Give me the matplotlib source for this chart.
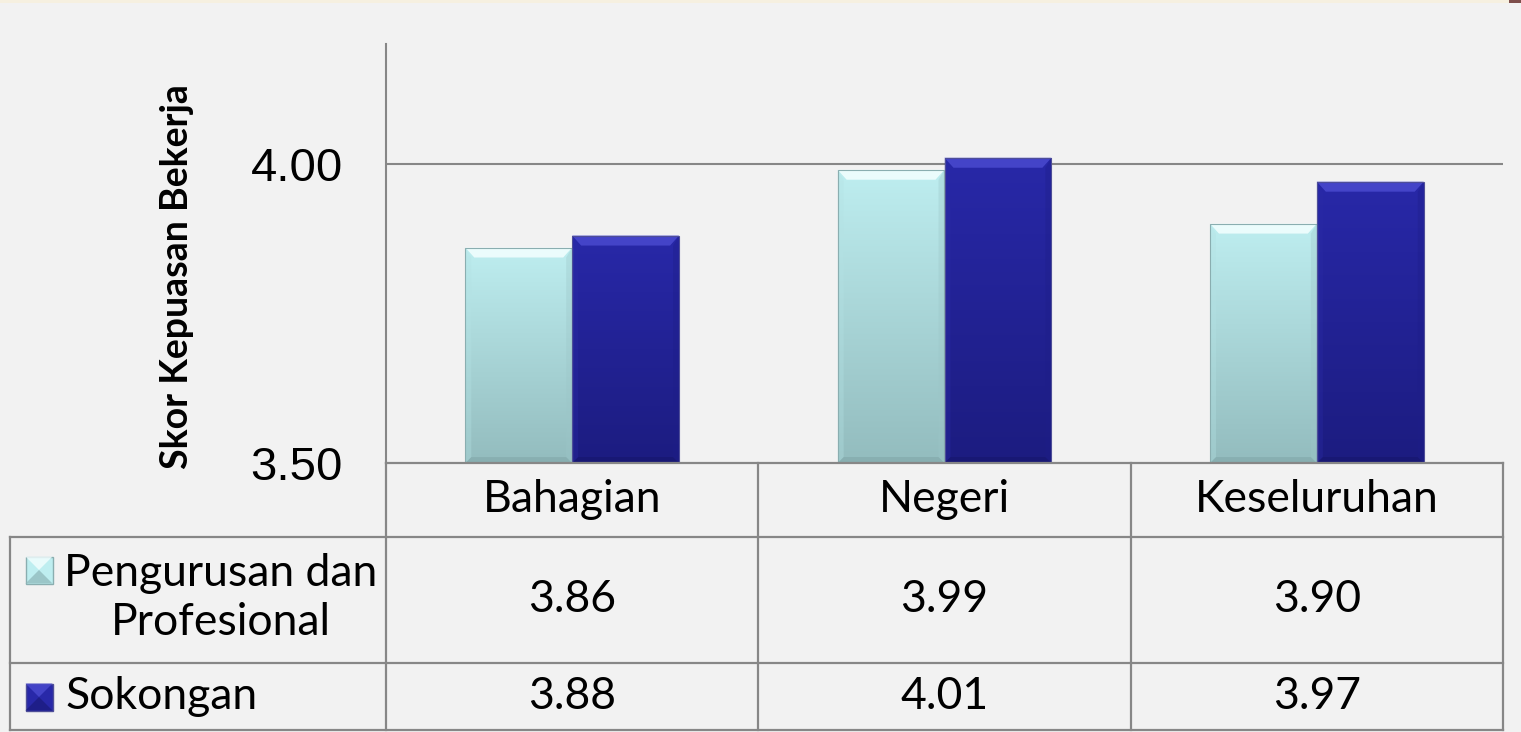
import numpy as np
import matplotlib
matplotlib.use("Agg")
import matplotlib.pyplot as plt
from matplotlib.patches import Rectangle, Polygon

# ---------------- data ----------------
categories = ["Bahagian", "Negeri", "Keseluruhan"]
series_names = ["Pengurusan dan\nProfesional", "Sokongan"]
pengurusan = [3.86, 3.99, 3.90]
sokongan = [3.88, 4.01, 3.97]
yticks = [3.50, 4.00]
ytick_labels = ["3.50", "4.00"]
ylabel = "Skor Kepuasan Bekerja"

# ---------------- style ----------------
W, H = 1521, 732
BG = "#F2F2F2"
LINE = "#878787"
CAL = ["Lato", "DejaVu Sans"]
ARI = ["Liberation Sans", "DejaVu Sans"]

cyan_grad = ("#BEEEF0", "#93BCBE")
blue_grad = ("#2828A8", "#1C1C80")
cyan_bevel = dict(top="#F4FFFF", left="#B4E2E4", right="#9CC6C8", bottom="#7FA4A6", edge="#8AAEB0")
blue_bevel = dict(top="#4A4ACF", left="#2B2BA6", right="#1E1E88", bottom="#15156A", edge="#4E4E98")

fig = plt.figure(figsize=(W / 100, H / 100), dpi=100, facecolor=BG)


def fx(px):
    return px / W


def fy(py):
    return 1 - py / H


# top decorative strip
fig.patches.append(Rectangle((0, fy(3)), fx(1509), 3 / H, transform=fig.transFigure,
                             facecolor="#F6F0E0", edgecolor="none"))
fig.patches.append(Rectangle((fx(1509), fy(3)), fx(12), 3 / H, transform=fig.transFigure,
                             facecolor="#7E4E4B", edgecolor="none"))

ax_left, ax_right, ax_top, ax_bottom = 386, 1503, 44, 463
ax = fig.add_axes([fx(ax_left), fy(ax_bottom), (ax_right - ax_left) / W, (ax_bottom - ax_top) / H])
ax.set_facecolor("none")
XL = (-0.5, len(categories) - 0.5)
YL = (3.5, 4.2)
ax.set_xlim(*XL)
ax.set_ylim(*YL)

bw = 0.287
x = np.arange(len(categories))
px_x = (ax_right - ax_left) / (XL[1] - XL[0])
px_y = (ax_bottom - ax_top) / (YL[1] - YL[0])


def decorate(bars, grad, bev):
    for b in bars:
        x0, y0 = b.get_x(), b.get_y()
        w, h = b.get_width(), b.get_height()
        x1, y1 = x0 + w, y0 + h
        g = np.linspace(0, 1, 256).reshape(-1, 1)
        c0 = np.array(matplotlib.colors.to_rgb(grad[0]))
        c1 = np.array(matplotlib.colors.to_rgb(grad[1]))
        img = (c0[None, None, :] * (1 - g[:, :, None]) + c1[None, None, :] * g[:, :, None])
        im = ax.imshow(img, extent=[x0, x1, y0, y1], aspect="auto", origin="upper",
                       zorder=2, interpolation="bilinear")
        im.set_clip_path(b)
        dx = 9 / px_x
        dy = 10 / px_y
        sx = 6 / px_x
        sy = 6 / px_y
        ax.add_patch(Polygon([(x0, y1), (x1, y1), (x1 - dx, y1 - dy), (x0 + dx, y1 - dy)],
                             closed=True, facecolor=bev["top"], edgecolor="none", alpha=0.85, zorder=3))
        ax.add_patch(Polygon([(x0, y0), (x1, y0), (x1 - sx, y0 + sy), (x0 + sx, y0 + sy)],
                             closed=True, facecolor=bev["bottom"], edgecolor="none", alpha=0.5, zorder=3))
        ax.add_patch(Polygon([(x0, y0), (x0, y1), (x0 + sx, y1 - dy), (x0 + sx, y0 + sy)],
                             closed=True, facecolor=bev["left"], edgecolor="none", alpha=0.35, zorder=3))
        ax.add_patch(Polygon([(x1, y0), (x1, y1), (x1 - sx, y1 - dy), (x1 - sx, y0 + sy)],
                             closed=True, facecolor=bev["right"], edgecolor="none", alpha=0.35, zorder=3))
        ax.add_patch(Rectangle((x0, y0), w, h, facecolor="none", edgecolor=bev["edge"],
                               linewidth=0.8, zorder=4))


b1 = ax.bar(x - bw / 2, np.array(pengurusan) - YL[0], bw, bottom=YL[0],
            color=cyan_grad[0], edgecolor="none", zorder=2)
b2 = ax.bar(x + bw / 2, np.array(sokongan) - YL[0], bw, bottom=YL[0],
            color=blue_grad[0], edgecolor="none", zorder=2)
decorate(b1, cyan_grad, cyan_bevel)
decorate(b2, blue_grad, blue_bevel)
ax.set_xlim(*XL)
ax.set_ylim(*YL)

# gridline at 4.00 only
for t in yticks[1:]:
    ax.axhline(t, color=LINE, linewidth=1.5, zorder=1)

for s in ["top", "right", "bottom"]:
    ax.spines[s].set_visible(False)
ax.spines["left"].set_color(LINE)
ax.spines["left"].set_linewidth(1.5)
ax.set_xticks([])
ax.set_yticks(yticks)
ax.set_yticklabels(ytick_labels, fontfamily=ARI, fontsize=34)
ax.tick_params(axis="y", length=0, pad=31)

fig.text(fx(177), fy(277), ylabel, rotation=90, ha="center", va="center",
         fontfamily=CAL, fontweight="bold", fontsize=27)

# ---------------- data table ----------------
ov = fig.add_axes([0, 0, 1, 1], zorder=5)
ov.set_xlim(0, W)
ov.set_ylim(H, 0)
ov.axis("off")
ov.patch.set_alpha(0)

tbl_left = 10
col_edges = [ax_left + (ax_right - ax_left) * i / len(categories) for i in range(len(categories) + 1)]
row_edges = [463, 537, 663, 730]
lw = 1.6

# horizontal lines
ov.plot([ax_left, ax_right], [row_edges[0]] * 2, color=LINE, lw=lw)
for r in row_edges[1:]:
    ov.plot([tbl_left, ax_right], [r, r], color=LINE, lw=lw)
# vertical lines
ov.plot([ax_left, ax_left], [row_edges[0], row_edges[-1]], color=LINE, lw=lw)
for c in col_edges[1:]:
    ov.plot([c, c], [row_edges[0], row_edges[-1]], color=LINE, lw=lw)
ov.plot([tbl_left, tbl_left], [row_edges[1], row_edges[-1]], color=LINE, lw=lw)

fs_tbl = 32
for i, cat in enumerate(categories):
    cx = (col_edges[i] + col_edges[i + 1]) / 2
    ov.text(cx, (row_edges[0] + row_edges[1]) / 2, cat, ha="center", va="center",
            fontfamily=CAL, fontsize=fs_tbl)
    ov.text(cx, (row_edges[1] + row_edges[2]) / 2, f"{pengurusan[i]:.2f}", ha="center", va="center",
            fontfamily=CAL, fontsize=fs_tbl)
    ov.text(cx, (row_edges[2] + row_edges[3]) / 2, f"{sokongan[i]:.2f}", ha="center", va="center",
            fontfamily=CAL, fontsize=fs_tbl)

# row labels with legend keys
ov.text(221, (row_edges[1] + row_edges[2]) / 2 - 2, series_names[0], ha="center", va="center",
        fontfamily=CAL, fontsize=fs_tbl, linespacing=1.25)
ov.text(65, (row_edges[2] + row_edges[3]) / 2, series_names[1], ha="left", va="center",
        fontfamily=CAL, fontsize=fs_tbl)

for (cy, grad, bev) in [(570, cyan_grad, cyan_bevel), (697, blue_grad, blue_bevel)]:
    s = 27
    ov.add_patch(Rectangle((39 - s / 2, cy - s / 2), s, s, facecolor=grad[0],
                           edgecolor=bev["edge"], linewidth=1.0))
    ov.add_patch(Polygon([(39 - s / 2, cy - s / 2), (39 + s / 2, cy - s / 2), (39, cy)],
                         closed=True, facecolor=bev["top"], edgecolor="none", alpha=0.8))
    ov.add_patch(Polygon([(39 - s / 2, cy + s / 2), (39 + s / 2, cy + s / 2), (39, cy)],
                         closed=True, facecolor=grad[1], edgecolor="none", alpha=0.8))

fig.savefig("out.png", dpi=100, facecolor=BG)
